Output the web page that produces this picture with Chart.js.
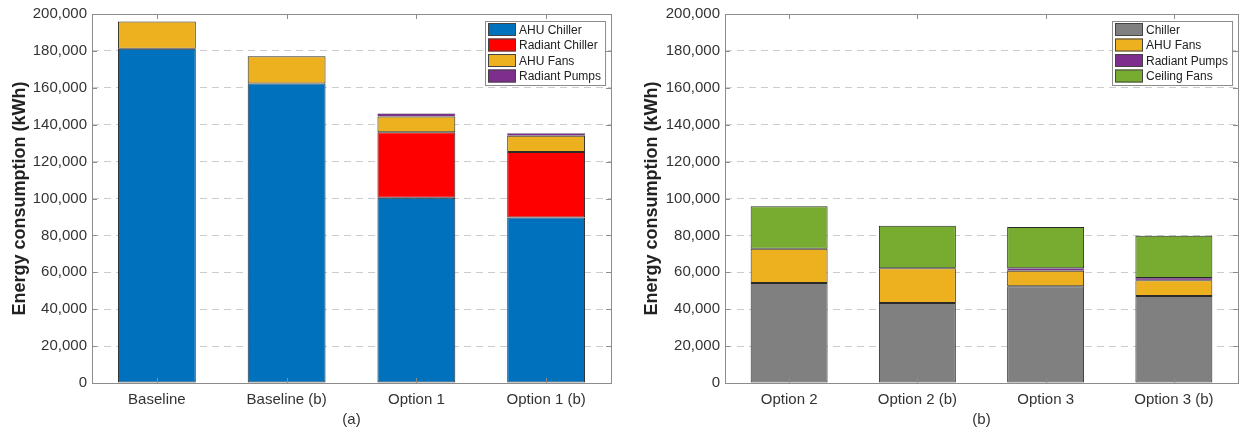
<!DOCTYPE html>
<html>
<head>
<meta charset="utf-8">
<script src="https://cdn.jsdelivr.net/npm/chart.js@4.4.3/dist/chart.umd.min.js"></script>
<style>
  html, body { margin: 0; padding: 0; background: #fff; }
  #wrap { position: relative; width: 1241px; height: 430px; }
  .panel { position: absolute; top: 0; height: 430px; }
</style>
</head>
<body>
<div id="wrap">
  <div class="panel" style="left:0;width:620px"><canvas id="chartA"></canvas></div>
  <div class="panel" style="left:620px;width:621px"><canvas id="chartB"></canvas></div>
</div>
<script>
// panel (a)
const casesA = ['Baseline', 'Baseline (b)', 'Option 1', 'Option 1 (b)'];
const ahuChillerA = [181100, 162300, 100400, 89700];
const radiantChillerA = [null, null, 35500, 35500];
const ahuFansA = [14800, 14800, 8600, 8800];
const radiantPumpsA = [null, null, 1600, 1400];

// panel (b)
const casesB = ['Option 2', 'Option 2 (b)', 'Option 3', 'Option 3 (b)'];
const chillerB = [54200, 43400, 52400, 47200];
const ahuFansB = [18600, 18800, 8500, 8500];
const radiantPumpsB = [null, null, 1300, 1200];
const ceilingFansB = [23000, 23000, 22300, 22900];

const FONT = '"Liberation Sans", Arial, Helvetica, sans-serif';
const TEXT = '#333333';

// box round the plot, inward ticks, and a legend inside the top right corner
const boxPlugin = {
  id: 'boxPlugin',
  afterDraw(chart) {
    const ctx = chart.ctx;
    const a = chart.chartArea;
    const xs = chart.scales.x, ys = chart.scales.y;
    ctx.save();
    ctx.strokeStyle = '#8c8c8c';
    ctx.lineWidth = 1;
    ctx.strokeRect(Math.round(a.left) + 0.5, Math.round(a.top) + 0.5,
                   Math.round(a.right - a.left), Math.round(a.bottom - a.top));
    ctx.beginPath();
    xs.ticks.forEach((t, i) => {
      const x = Math.round(xs.getPixelForTick(i)) + 0.5;
      ctx.moveTo(x, a.bottom); ctx.lineTo(x, a.bottom - 5);
      ctx.moveTo(x, a.top); ctx.lineTo(x, a.top + 5);
    });
    ys.ticks.forEach((t, i) => {
      const y = Math.round(ys.getPixelForTick(i)) + 0.5;
      ctx.moveTo(a.left, y); ctx.lineTo(a.left + 5, y);
      ctx.moveTo(a.right, y); ctx.lineTo(a.right - 5, y);
    });
    ctx.stroke();

    // legend
    const sets = chart.data.datasets;
    ctx.font = '12px ' + FONT;
    const sw = 28, sh = 13, rowH = 15.5, padX = 3;
    const textW = Math.max(...sets.map(d => ctx.measureText(d.label).width));
    const w = padX + sw + 3 + textW + 4;
    const h = rowH * sets.length + 2;
    const lx = Math.round(a.right - 6 - w), ly = Math.round(a.top + 7);
    ctx.fillStyle = '#fff';
    ctx.fillRect(lx, ly, w, h);
    ctx.strokeStyle = '#8c8c8c';
    ctx.strokeRect(lx + 0.5, ly + 0.5, w, h);
    sets.forEach((d, i) => {
      const y = ly + 2 + i * rowH;
      ctx.fillStyle = d.backgroundColor;
      ctx.fillRect(lx + padX, y, sw, sh);
      ctx.strokeStyle = '#444';
      ctx.strokeRect(lx + padX + 0.5, y + 0.5, sw - 1, sh - 1);
      ctx.fillStyle = '#222';
      ctx.textBaseline = 'middle';
      ctx.fillText(d.label, lx + padX + sw + 3, y + sh / 2 + 1);
    });
    ctx.restore();
  }
};

function makeSet(label, data, color, bw) {
  return {
    label: label,
    data: data,
    backgroundColor: color,
    borderColor: '#2b2b2b',
    borderWidth: bw === undefined ? 1 : bw,
    borderSkipped: false,
    categoryPercentage: 1.0,
    barPercentage: 0.6
  };
}

function makeChart(id, cases, datasets, subLabel, yWidth, titlePad, rightPad) {
  return new Chart(document.getElementById(id), {
    type: 'bar',
    data: { labels: cases, datasets: datasets },
    options: {
      responsive: true,
      maintainAspectRatio: false,
      animation: false,
      layout: { padding: { top: 14, right: rightPad, left: 0, bottom: 0 } },
      plugins: { legend: { display: false }, tooltip: { enabled: false } },
      scales: {
        x: {
          stacked: true,
          grid: { display: false, drawTicks: false },
          border: { display: false },
          ticks: { color: TEXT, font: { family: FONT, size: 15 }, padding: 8, maxRotation: 0 },
          title: { display: true, text: subLabel, color: TEXT,
                   font: { family: FONT, size: 15 }, padding: { top: 0, bottom: 1 } },
          afterFit: s => { s.height = 47; }
        },
        y: {
          stacked: true,
          min: 0,
          max: 200000,
          grid: { color: '#cccccc', lineWidth: 1, drawTicks: false },
          border: { display: false, dash: [7, 5] },
          ticks: {
            stepSize: 20000,
            color: TEXT,
            font: { family: FONT, size: 15 },
            padding: 5,
            callback: v => v.toLocaleString('en-US')
          },
          title: { display: true, text: 'Energy consumption (kWh)', color: '#222',
                   font: { family: FONT, size: 18, weight: 'bold' },
                   padding: { top: titlePad, bottom: 0 } },
          afterFit: s => { s.width = yWidth; }
        }
      }
    },
    plugins: [boxPlugin]
  });
}

makeChart('chartA', casesA, [
  makeSet('AHU Chiller', ahuChillerA, '#0072BD'),
  makeSet('Radiant Chiller', radiantChillerA, '#FF0000'),
  makeSet('AHU Fans', ahuFansA, '#EDB120'),
  makeSet('Radiant Pumps', radiantPumpsA, '#7E2F8E', 0.5)
], '(a)', 92, 9, 9);

makeChart('chartB', casesB, [
  makeSet('Chiller', chillerB, '#808080'),
  makeSet('AHU Fans', ahuFansB, '#EDB120'),
  makeSet('Radiant Pumps', radiantPumpsB, '#7E2F8E', 0.5),
  makeSet('Ceiling Fans', ceilingFansB, '#77AC30')
], '(b)', 105, 21, 3);
</script>
</body>
</html>
